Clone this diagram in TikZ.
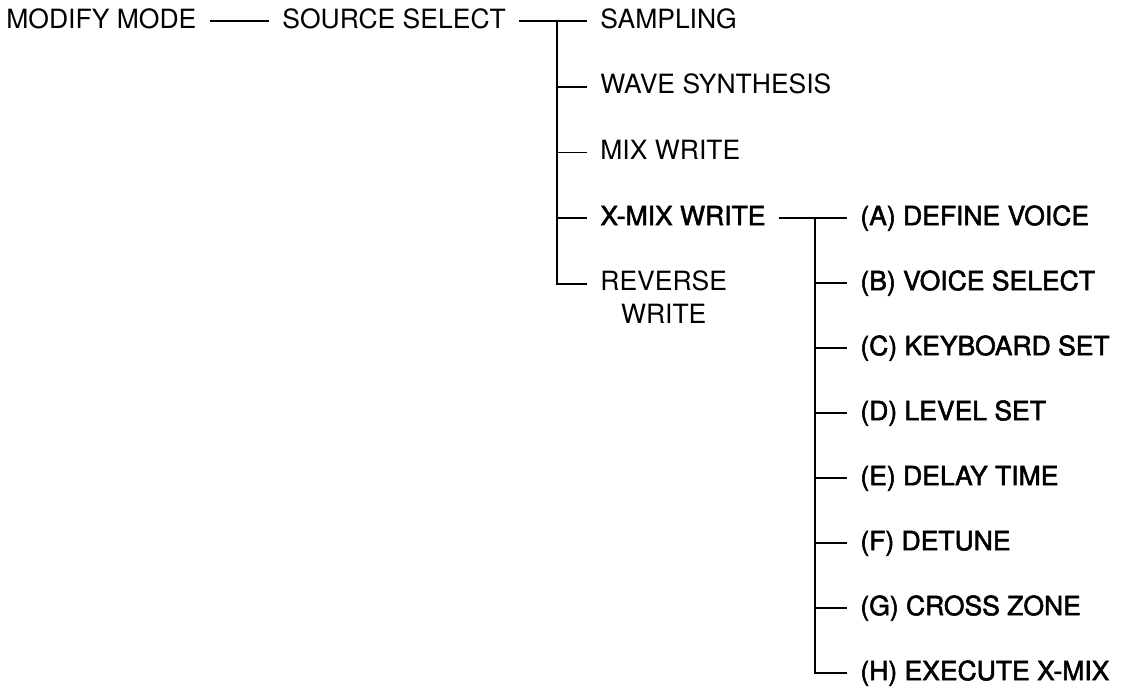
\documentclass[tikz,border=0pt]{standalone}
\usepackage{fontspec}
\setmainfont{TeX Gyre Heros}
\newfontfamily\heavyfont[FakeBold=2]{TeX Gyre Heros}
\usetikzlibrary{positioning}

\begin{document}
\begin{tikzpicture}[
    x=0.5pt, y=-0.5pt,
    %% ── Base label style ──
    item/.style={
        anchor=west, inner xsep=6.5pt, inner ysep=0pt,
        text height=0.72em, text depth=0pt,
        font=\fontsize{13.25}{16.5}\selectfont
    },
    %% ── Darker labels of the X-MIX branch ──
    subitem/.style={item, font=\fontsize{13.25}{16.5}\selectfont\heavyfont},
    %% ── Tree connectors ──
    branch/.style={line width=0.8pt, color=black},
]
\useasboundingbox (0,0) rectangle (1124,691);

% ── Root ──
\node[item] (modify) at (-7, 21) {MODIFY MODE};
\node[item] (source) at (269, 21) {SOURCE SELECT};

% ── Column 1 · Source select ──
\node[item]    (sampling) at (587, 21)    {SAMPLING};
\node[item]    (wave)     at (587, 86.7)  {WAVE SYNTHESIS};
\node[item]    (mixw)     at (587, 152.3) {MIX WRITE};
\node[subitem] (xmix)     at (587, 218)   {X-MIX WRITE};
% two-line label: node sits on its last line
\node[item, align=center] (reverse) at (587, 316.7) {REVERSE\\WRITE};

% ── Column 2 · X-MIX write ──
\node[subitem] (defvoice)  at (847, 218) {(A) DEFINE VOICE};
\node[subitem] (voicesel)  at (847, 283) {(B) VOICE SELECT};
\node[subitem] (keyset)    at (847, 348) {(C) KEYBOARD SET};
\node[subitem] (levelset)  at (847, 413) {(D) LEVEL SET};
\node[subitem] (delay)     at (847, 478) {(E) DELAY TIME};
\node[subitem] (detune)    at (847, 543) {(F) DETUNE};
\node[subitem] (crosszone) at (847, 608) {(G) CROSS ZONE};
\node[subitem] (execute)   at (847, 673) {(H) EXECUTE X-MIX};

% ── Fork points of the two trunks ──
\coordinate (srcfork)  at (557, 21);
\coordinate (xmixfork) at (815, 218);

% Root line
\draw[branch] (modify.east) -- (source.west);

% Trunk 1: straight through to SAMPLING, L-corner to REVERSE
\draw[branch] (source.east) -- (sampling.west);
\draw[branch] (srcfork) |- ([yshift=16.5pt]reverse.west);
\foreach \n in {wave, mixw, xmix}
    \draw[branch] (srcfork |- \n.west) -- (\n.west);

% Trunk 2: straight through to (A), L-corner to (H)
\draw[branch] (xmix.east) -- (defvoice.west);
\draw[branch] (xmixfork) |- (execute.west);
\foreach \n in {voicesel, keyset, levelset, delay, detune, crosszone}
    \draw[branch] (xmixfork |- \n.west) -- (\n.west);

\end{tikzpicture}
\end{document}
